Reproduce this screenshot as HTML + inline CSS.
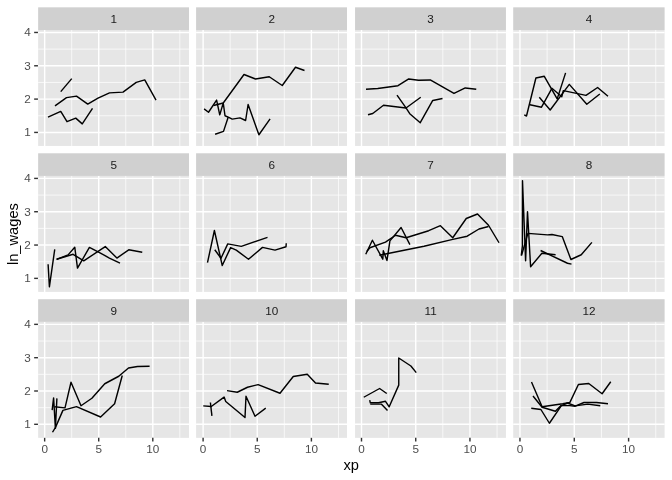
<!DOCTYPE html>
<html><head><meta charset="utf-8"><title>ln_wages by xp</title>
<style>html,body{margin:0;padding:0;background:#fff}svg{display:block}text{font-family:"Liberation Sans",Arial,Helvetica,sans-serif}</style></head>
<body>
<svg width="672" height="480" viewBox="0 0 672 480">
<rect width="672" height="480" fill="#fff"/>
<g>
<rect x="38.15" y="7.33" width="150.85" height="22.67" fill="#D0D0D0"/>
<rect x="38.15" y="30.00" width="150.85" height="115.95" fill="#E6E6E6"/>
<path d="M38.15 115.76H189.00M38.15 82.44H189.00M38.15 49.12H189.00M71.69 30.00V145.95M125.76 30.00V145.95M179.84 30.00V145.95" stroke="#fff" stroke-width="0.71" fill="none"/>
<path d="M38.15 132.42H189.00M38.15 99.10H189.00M38.15 65.78H189.00M38.15 32.46H189.00M44.65 30.00V145.95M98.72 30.00V145.95M152.80 30.00V145.95" stroke="#fff" stroke-width="1.42" fill="none"/>
<polyline points="60.75,91.65 71.75,78.65" fill="none" stroke="#000" stroke-width="1.42" stroke-linejoin="round" stroke-linecap="butt"/>
<polyline points="55.00,105.90 66.50,97.65 76.50,96.15 87.75,104.15 98.00,98.15 109.50,92.90 123.00,92.15 136.25,82.40 144.75,79.90 156.00,100.15" fill="none" stroke="#000" stroke-width="1.42" stroke-linejoin="round" stroke-linecap="butt"/>
<polyline points="48.00,117.15 60.75,111.40 67.00,121.65 75.75,118.15 82.25,123.90 92.50,108.40" fill="none" stroke="#000" stroke-width="1.42" stroke-linejoin="round" stroke-linecap="butt"/>
<text x="113.67" y="22.98" font-size="11.73" fill="#1A1A1A" text-anchor="middle">1</text>
<path d="M34.15 132.42H37.95" stroke="#333" stroke-width="1.42"/>
<text x="30.85" y="136.42" font-size="11.73" fill="#4D4D4D" text-anchor="end">1</text>
<path d="M34.15 99.10H37.95" stroke="#333" stroke-width="1.42"/>
<text x="30.85" y="103.10" font-size="11.73" fill="#4D4D4D" text-anchor="end">2</text>
<path d="M34.15 65.78H37.95" stroke="#333" stroke-width="1.42"/>
<text x="30.85" y="69.78" font-size="11.73" fill="#4D4D4D" text-anchor="end">3</text>
<path d="M34.15 32.46H37.95" stroke="#333" stroke-width="1.42"/>
<text x="30.85" y="36.46" font-size="11.73" fill="#4D4D4D" text-anchor="end">4</text>
</g>
<g>
<rect x="196.10" y="7.33" width="150.90" height="22.67" fill="#D0D0D0"/>
<rect x="196.10" y="30.00" width="150.90" height="115.95" fill="#E6E6E6"/>
<path d="M196.10 115.76H347.00M196.10 82.44H347.00M196.10 49.12H347.00M230.17 30.00V145.95M284.32 30.00V145.95M338.48 30.00V145.95" stroke="#fff" stroke-width="0.71" fill="none"/>
<path d="M196.10 132.42H347.00M196.10 99.10H347.00M196.10 65.78H347.00M196.10 32.46H347.00M203.10 30.00V145.95M257.25 30.00V145.95M311.40 30.00V145.95" stroke="#fff" stroke-width="1.42" fill="none"/>
<polyline points="204.10,108.90 208.50,112.25 216.60,100.10 219.75,114.90 223.25,103.00 225.00,115.75 228.75,117.40 232.25,119.10 240.00,117.90 245.60,120.50 248.10,104.50 258.90,134.75 270.10,118.90" fill="none" stroke="#000" stroke-width="1.42" stroke-linejoin="round" stroke-linecap="butt"/>
<polyline points="215.10,134.25 223.50,131.40 228.25,117.00" fill="none" stroke="#000" stroke-width="1.42" stroke-linejoin="round" stroke-linecap="butt"/>
<polyline points="213.50,105.50 223.25,103.00 244.00,74.50 255.50,79.00 269.25,76.75 282.25,85.50 295.50,67.25 304.50,70.50" fill="none" stroke="#000" stroke-width="1.42" stroke-linejoin="round" stroke-linecap="butt"/>
<text x="271.65" y="22.98" font-size="11.73" fill="#1A1A1A" text-anchor="middle">2</text>
</g>
<g>
<rect x="355.05" y="7.33" width="150.90" height="22.67" fill="#D0D0D0"/>
<rect x="355.05" y="30.00" width="150.90" height="115.95" fill="#E6E6E6"/>
<path d="M355.05 115.76H505.95M355.05 82.44H505.95M355.05 49.12H505.95M388.61 30.00V145.95M442.84 30.00V145.95M497.06 30.00V145.95" stroke="#fff" stroke-width="0.71" fill="none"/>
<path d="M355.05 132.42H505.95M355.05 99.10H505.95M355.05 65.78H505.95M355.05 32.46H505.95M361.50 30.00V145.95M415.73 30.00V145.95M469.95 30.00V145.95" stroke="#fff" stroke-width="1.42" fill="none"/>
<polyline points="366.00,89.20 377.75,88.45 398.00,85.70 408.75,78.95 418.50,80.20 430.25,79.95 454.00,93.45 465.25,87.95 476.25,89.20" fill="none" stroke="#000" stroke-width="1.42" stroke-linejoin="round" stroke-linecap="butt"/>
<polyline points="368.00,114.70 372.75,113.45 383.50,105.20 406.00,107.95 420.75,97.20" fill="none" stroke="#000" stroke-width="1.42" stroke-linejoin="round" stroke-linecap="butt"/>
<polyline points="397.00,95.20 406.00,107.95 409.75,113.70 420.25,122.70 432.75,100.45 442.50,98.45" fill="none" stroke="#000" stroke-width="1.42" stroke-linejoin="round" stroke-linecap="butt"/>
<text x="430.60" y="22.98" font-size="11.73" fill="#1A1A1A" text-anchor="middle">3</text>
</g>
<g>
<rect x="513.20" y="7.33" width="151.40" height="22.67" fill="#D0D0D0"/>
<rect x="513.20" y="30.00" width="151.40" height="115.95" fill="#E6E6E6"/>
<path d="M513.20 115.76H664.60M513.20 82.44H664.60M513.20 49.12H664.60M547.11 30.00V145.95M601.44 30.00V145.95M655.76 30.00V145.95" stroke="#fff" stroke-width="0.71" fill="none"/>
<path d="M513.20 132.42H664.60M513.20 99.10H664.60M513.20 65.78H664.60M513.20 32.46H664.60M519.95 30.00V145.95M574.28 30.00V145.95M628.60 30.00V145.95" stroke="#fff" stroke-width="1.42" fill="none"/>
<polyline points="524.25,114.90 526.50,116.00 535.90,78.00 544.30,76.30 557.20,98.90 565.60,72.90" fill="none" stroke="#000" stroke-width="1.42" stroke-linejoin="round" stroke-linecap="butt"/>
<polyline points="529.90,104.75 541.50,107.20 551.90,88.30 561.80,96.70 563.30,90.60 586.00,95.40 597.60,87.50 608.00,96.25" fill="none" stroke="#000" stroke-width="1.42" stroke-linejoin="round" stroke-linecap="butt"/>
<polyline points="539.30,97.30 550.20,110.00 569.30,84.40 586.80,104.20 599.80,94.00" fill="none" stroke="#000" stroke-width="1.42" stroke-linejoin="round" stroke-linecap="butt"/>
<text x="589.00" y="22.98" font-size="11.73" fill="#1A1A1A" text-anchor="middle">4</text>
</g>
<g>
<rect x="38.15" y="153.28" width="150.85" height="22.67" fill="#D0D0D0"/>
<rect x="38.15" y="175.95" width="150.85" height="115.95" fill="#E6E6E6"/>
<path d="M38.15 261.71H189.00M38.15 228.39H189.00M38.15 195.07H189.00M71.69 175.95V291.90M125.76 175.95V291.90M179.84 175.95V291.90" stroke="#fff" stroke-width="0.71" fill="none"/>
<path d="M38.15 278.37H189.00M38.15 245.05H189.00M38.15 211.73H189.00M38.15 178.41H189.00M44.65 175.95V291.90M98.72 175.95V291.90M152.80 175.95V291.90" stroke="#fff" stroke-width="1.42" fill="none"/>
<polyline points="48.10,264.30 49.40,286.80 54.75,249.30" fill="none" stroke="#000" stroke-width="1.42" stroke-linejoin="round" stroke-linecap="butt"/>
<polyline points="56.60,259.30 68.10,254.90 74.75,247.20 77.50,268.05 89.40,247.40 100.00,252.80 109.40,258.05 120.00,263.05" fill="none" stroke="#000" stroke-width="1.42" stroke-linejoin="round" stroke-linecap="butt"/>
<polyline points="56.60,259.30 73.10,254.30 83.75,260.90 105.25,246.55 116.90,258.05 128.75,249.80 142.25,252.30" fill="none" stroke="#000" stroke-width="1.42" stroke-linejoin="round" stroke-linecap="butt"/>
<text x="113.67" y="168.93" font-size="11.73" fill="#1A1A1A" text-anchor="middle">5</text>
<path d="M34.15 278.37H37.95" stroke="#333" stroke-width="1.42"/>
<text x="30.85" y="282.37" font-size="11.73" fill="#4D4D4D" text-anchor="end">1</text>
<path d="M34.15 245.05H37.95" stroke="#333" stroke-width="1.42"/>
<text x="30.85" y="249.05" font-size="11.73" fill="#4D4D4D" text-anchor="end">2</text>
<path d="M34.15 211.73H37.95" stroke="#333" stroke-width="1.42"/>
<text x="30.85" y="215.73" font-size="11.73" fill="#4D4D4D" text-anchor="end">3</text>
<path d="M34.15 178.41H37.95" stroke="#333" stroke-width="1.42"/>
<text x="30.85" y="182.41" font-size="11.73" fill="#4D4D4D" text-anchor="end">4</text>
</g>
<g>
<rect x="196.10" y="153.28" width="150.90" height="22.67" fill="#D0D0D0"/>
<rect x="196.10" y="175.95" width="150.90" height="115.95" fill="#E6E6E6"/>
<path d="M196.10 261.71H347.00M196.10 228.39H347.00M196.10 195.07H347.00M230.17 175.95V291.90M284.32 175.95V291.90M338.48 175.95V291.90" stroke="#fff" stroke-width="0.71" fill="none"/>
<path d="M196.10 278.37H347.00M196.10 245.05H347.00M196.10 211.73H347.00M196.10 178.41H347.00M203.10 175.95V291.90M257.25 175.95V291.90M311.40 175.95V291.90" stroke="#fff" stroke-width="1.42" fill="none"/>
<polyline points="207.50,262.60 214.40,230.50 222.25,265.50 230.60,247.60 236.25,250.10 248.50,259.25 262.50,247.40 275.00,250.10 286.00,246.75 286.25,243.25" fill="none" stroke="#000" stroke-width="1.42" stroke-linejoin="round" stroke-linecap="butt"/>
<polyline points="214.75,249.75 221.00,258.25 227.75,243.90 241.25,246.40 267.50,237.40" fill="none" stroke="#000" stroke-width="1.42" stroke-linejoin="round" stroke-linecap="butt"/>
<text x="271.65" y="168.93" font-size="11.73" fill="#1A1A1A" text-anchor="middle">6</text>
</g>
<g>
<rect x="355.05" y="153.28" width="150.90" height="22.67" fill="#D0D0D0"/>
<rect x="355.05" y="175.95" width="150.90" height="115.95" fill="#E6E6E6"/>
<path d="M355.05 261.71H505.95M355.05 228.39H505.95M355.05 195.07H505.95M388.61 175.95V291.90M442.84 175.95V291.90M497.06 175.95V291.90" stroke="#fff" stroke-width="0.71" fill="none"/>
<path d="M355.05 278.37H505.95M355.05 245.05H505.95M355.05 211.73H505.95M355.05 178.41H505.95M361.50 175.95V291.90M415.73 175.95V291.90M469.95 175.95V291.90" stroke="#fff" stroke-width="1.42" fill="none"/>
<polyline points="365.75,254.25 372.40,240.25 382.80,259.20 383.30,250.80 387.00,260.50 389.90,240.90 401.10,227.50 409.90,244.60" fill="none" stroke="#000" stroke-width="1.42" stroke-linejoin="round" stroke-linecap="butt"/>
<polyline points="366.75,251.50 369.90,247.75 385.50,242.10 395.50,235.25 406.10,237.75 428.70,230.70 440.40,225.70 452.75,237.75 466.25,218.50 477.50,214.00 488.50,225.25 499.00,242.75" fill="none" stroke="#000" stroke-width="1.42" stroke-linejoin="round" stroke-linecap="butt"/>
<polyline points="379.30,255.20 424.00,246.30 452.75,239.40 467.20,236.20 479.00,229.00 488.50,226.50" fill="none" stroke="#000" stroke-width="1.42" stroke-linejoin="round" stroke-linecap="butt"/>
<text x="430.60" y="168.93" font-size="11.73" fill="#1A1A1A" text-anchor="middle">7</text>
</g>
<g>
<rect x="513.20" y="153.28" width="151.40" height="22.67" fill="#D0D0D0"/>
<rect x="513.20" y="175.95" width="151.40" height="115.95" fill="#E6E6E6"/>
<path d="M513.20 261.71H664.60M513.20 228.39H664.60M513.20 195.07H664.60M547.11 175.95V291.90M601.44 175.95V291.90M655.76 175.95V291.90" stroke="#fff" stroke-width="0.71" fill="none"/>
<path d="M513.20 278.37H664.60M513.20 245.05H664.60M513.20 211.73H664.60M513.20 178.41H664.60M519.95 175.95V291.90M574.28 175.95V291.90M628.60 175.95V291.90" stroke="#fff" stroke-width="1.42" fill="none"/>
<polyline points="521.25,255.50 522.40,246.00 522.50,180.75 525.60,260.75 527.50,211.60 530.60,266.75 541.90,253.25 555.60,254.75" fill="none" stroke="#000" stroke-width="1.42" stroke-linejoin="round" stroke-linecap="butt"/>
<polyline points="521.50,255.50 527.90,233.40 547.50,234.90 551.90,234.50 562.25,236.60 570.90,259.50 581.25,254.75 591.90,242.40" fill="none" stroke="#000" stroke-width="1.42" stroke-linejoin="round" stroke-linecap="butt"/>
<polyline points="540.60,250.50 567.50,263.25 571.50,264.10" fill="none" stroke="#000" stroke-width="1.42" stroke-linejoin="round" stroke-linecap="butt"/>
<text x="589.00" y="168.93" font-size="11.73" fill="#1A1A1A" text-anchor="middle">8</text>
</g>
<g>
<rect x="38.15" y="299.23" width="150.85" height="22.67" fill="#D0D0D0"/>
<rect x="38.15" y="321.90" width="150.85" height="115.95" fill="#E6E6E6"/>
<path d="M38.15 407.66H189.00M38.15 374.34H189.00M38.15 341.02H189.00M71.69 321.90V437.85M125.76 321.90V437.85M179.84 321.90V437.85" stroke="#fff" stroke-width="0.71" fill="none"/>
<path d="M38.15 424.32H189.00M38.15 391.00H189.00M38.15 357.68H189.00M38.15 324.36H189.00M44.65 321.90V437.85M98.72 321.90V437.85M152.80 321.90V437.85" stroke="#fff" stroke-width="1.42" fill="none"/>
<polyline points="52.15,410.10 53.60,397.90 55.40,428.40 56.90,398.40" fill="none" stroke="#000" stroke-width="1.42" stroke-linejoin="round" stroke-linecap="butt"/>
<polyline points="54.50,406.80 65.00,407.90 71.00,382.25 81.00,405.75 91.90,398.25 104.75,383.75 118.75,376.25 128.50,368.00 137.50,366.50 149.60,366.30" fill="none" stroke="#000" stroke-width="1.42" stroke-linejoin="round" stroke-linecap="butt"/>
<polyline points="52.50,432.25 55.50,427.40 62.90,410.40 76.50,406.60 100.60,417.00 114.60,403.75 122.25,375.50" fill="none" stroke="#000" stroke-width="1.42" stroke-linejoin="round" stroke-linecap="butt"/>
<text x="113.67" y="314.88" font-size="11.73" fill="#1A1A1A" text-anchor="middle">9</text>
<path d="M34.15 424.32H37.95" stroke="#333" stroke-width="1.42"/>
<text x="30.85" y="428.32" font-size="11.73" fill="#4D4D4D" text-anchor="end">1</text>
<path d="M34.15 391.00H37.95" stroke="#333" stroke-width="1.42"/>
<text x="30.85" y="395.00" font-size="11.73" fill="#4D4D4D" text-anchor="end">2</text>
<path d="M34.15 357.68H37.95" stroke="#333" stroke-width="1.42"/>
<text x="30.85" y="361.68" font-size="11.73" fill="#4D4D4D" text-anchor="end">3</text>
<path d="M34.15 324.36H37.95" stroke="#333" stroke-width="1.42"/>
<text x="30.85" y="328.36" font-size="11.73" fill="#4D4D4D" text-anchor="end">4</text>
<path d="M44.65 437.85V441.52" stroke="#333" stroke-width="1.42"/>
<text x="44.65" y="452.8" font-size="11.73" fill="#4D4D4D" text-anchor="middle">0</text>
<path d="M98.72 437.85V441.52" stroke="#333" stroke-width="1.42"/>
<text x="98.72" y="452.8" font-size="11.73" fill="#4D4D4D" text-anchor="middle">5</text>
<path d="M152.80 437.85V441.52" stroke="#333" stroke-width="1.42"/>
<text x="152.80" y="452.8" font-size="11.73" fill="#4D4D4D" text-anchor="middle">10</text>
</g>
<g>
<rect x="196.10" y="299.23" width="150.90" height="22.67" fill="#D0D0D0"/>
<rect x="196.10" y="321.90" width="150.90" height="115.95" fill="#E6E6E6"/>
<path d="M196.10 407.66H347.00M196.10 374.34H347.00M196.10 341.02H347.00M230.17 321.90V437.85M284.32 321.90V437.85M338.48 321.90V437.85" stroke="#fff" stroke-width="0.71" fill="none"/>
<path d="M196.10 424.32H347.00M196.10 391.00H347.00M196.10 357.68H347.00M196.10 324.36H347.00M203.10 321.90V437.85M257.25 321.90V437.85M311.40 321.90V437.85" stroke="#fff" stroke-width="1.42" fill="none"/>
<polyline points="203.25,405.90 211.25,406.50 224.10,397.10 225.75,401.50 245.00,417.50 246.00,396.25 255.00,416.25 265.75,408.10" fill="none" stroke="#000" stroke-width="1.42" stroke-linejoin="round" stroke-linecap="butt"/>
<polyline points="210.40,402.50 211.90,415.90" fill="none" stroke="#000" stroke-width="1.42" stroke-linejoin="round" stroke-linecap="butt"/>
<polyline points="227.00,390.60 237.25,392.25 247.50,387.25 258.10,384.60 280.00,393.25 293.25,376.50 307.25,374.25 315.50,383.00 328.75,384.25" fill="none" stroke="#000" stroke-width="1.42" stroke-linejoin="round" stroke-linecap="butt"/>
<text x="271.65" y="314.88" font-size="11.73" fill="#1A1A1A" text-anchor="middle">10</text>
<path d="M203.10 437.85V441.52" stroke="#333" stroke-width="1.42"/>
<text x="203.10" y="452.8" font-size="11.73" fill="#4D4D4D" text-anchor="middle">0</text>
<path d="M257.25 437.85V441.52" stroke="#333" stroke-width="1.42"/>
<text x="257.25" y="452.8" font-size="11.73" fill="#4D4D4D" text-anchor="middle">5</text>
<path d="M311.40 437.85V441.52" stroke="#333" stroke-width="1.42"/>
<text x="311.40" y="452.8" font-size="11.73" fill="#4D4D4D" text-anchor="middle">10</text>
</g>
<g>
<rect x="355.05" y="299.23" width="150.90" height="22.67" fill="#D0D0D0"/>
<rect x="355.05" y="321.90" width="150.90" height="115.95" fill="#E6E6E6"/>
<path d="M355.05 407.66H505.95M355.05 374.34H505.95M355.05 341.02H505.95M388.61 321.90V437.85M442.84 321.90V437.85M497.06 321.90V437.85" stroke="#fff" stroke-width="0.71" fill="none"/>
<path d="M355.05 424.32H505.95M355.05 391.00H505.95M355.05 357.68H505.95M355.05 324.36H505.95M361.50 321.90V437.85M415.73 321.90V437.85M469.95 321.90V437.85" stroke="#fff" stroke-width="1.42" fill="none"/>
<polyline points="363.75,397.25 379.60,388.50 386.75,393.50" fill="none" stroke="#000" stroke-width="1.42" stroke-linejoin="round" stroke-linecap="butt"/>
<polyline points="369.70,400.20 370.30,402.80 378.50,402.80 385.50,401.30 389.20,406.80 398.75,385.10 398.75,358.00 410.90,366.00 416.25,372.60" fill="none" stroke="#000" stroke-width="1.42" stroke-linejoin="round" stroke-linecap="butt"/>
<polyline points="370.25,404.15 381.50,404.15 387.50,410.60" fill="none" stroke="#000" stroke-width="1.42" stroke-linejoin="round" stroke-linecap="butt"/>
<text x="430.60" y="314.88" font-size="11.73" fill="#1A1A1A" text-anchor="middle">11</text>
<path d="M361.50 437.85V441.52" stroke="#333" stroke-width="1.42"/>
<text x="361.50" y="452.8" font-size="11.73" fill="#4D4D4D" text-anchor="middle">0</text>
<path d="M415.73 437.85V441.52" stroke="#333" stroke-width="1.42"/>
<text x="415.73" y="452.8" font-size="11.73" fill="#4D4D4D" text-anchor="middle">5</text>
<path d="M469.95 437.85V441.52" stroke="#333" stroke-width="1.42"/>
<text x="469.95" y="452.8" font-size="11.73" fill="#4D4D4D" text-anchor="middle">10</text>
</g>
<g>
<rect x="513.20" y="299.23" width="151.40" height="22.67" fill="#D0D0D0"/>
<rect x="513.20" y="321.90" width="151.40" height="115.95" fill="#E6E6E6"/>
<path d="M513.20 407.66H664.60M513.20 374.34H664.60M513.20 341.02H664.60M547.11 321.90V437.85M601.44 321.90V437.85M655.76 321.90V437.85" stroke="#fff" stroke-width="0.71" fill="none"/>
<path d="M513.20 424.32H664.60M513.20 391.00H664.60M513.20 357.68H664.60M513.20 324.36H664.60M519.95 321.90V437.85M574.28 321.90V437.85M628.60 321.90V437.85" stroke="#fff" stroke-width="1.42" fill="none"/>
<polyline points="531.50,382.00 542.10,406.80 562.70,403.80 569.90,402.40 578.40,384.50 588.75,383.50 602.10,393.75 610.75,381.75" fill="none" stroke="#000" stroke-width="1.42" stroke-linejoin="round" stroke-linecap="butt"/>
<polyline points="533.00,396.00 542.10,407.25 555.40,411.30 561.00,405.50 569.80,405.60 575.20,406.20 584.00,402.50 596.50,402.50 608.00,403.75" fill="none" stroke="#000" stroke-width="1.42" stroke-linejoin="round" stroke-linecap="butt"/>
<polyline points="531.25,408.25 540.90,409.50 549.40,423.25 561.20,405.90 567.40,403.00 575.20,405.90 587.75,404.10 600.25,405.75" fill="none" stroke="#000" stroke-width="1.42" stroke-linejoin="round" stroke-linecap="butt"/>
<text x="589.00" y="314.88" font-size="11.73" fill="#1A1A1A" text-anchor="middle">12</text>
<path d="M519.95 437.85V441.52" stroke="#333" stroke-width="1.42"/>
<text x="519.95" y="452.8" font-size="11.73" fill="#4D4D4D" text-anchor="middle">0</text>
<path d="M574.28 437.85V441.52" stroke="#333" stroke-width="1.42"/>
<text x="574.28" y="452.8" font-size="11.73" fill="#4D4D4D" text-anchor="middle">5</text>
<path d="M628.60 437.85V441.52" stroke="#333" stroke-width="1.42"/>
<text x="628.60" y="452.8" font-size="11.73" fill="#4D4D4D" text-anchor="middle">10</text>
</g>
<text x="351.2" y="469.7" font-size="14.67" fill="#000" text-anchor="middle">xp</text>
<text transform="translate(18.4,234.1) rotate(-90)" font-size="14.67" fill="#000" text-anchor="middle">ln_wages</text>
</svg></body></html>
